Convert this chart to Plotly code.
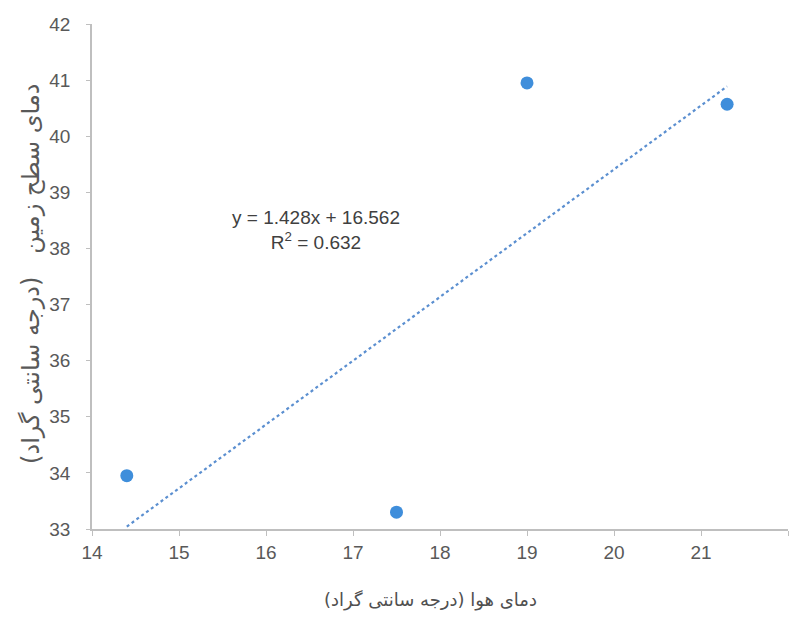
import numpy as np
import plotly.graph_objects as go

air_temp = [14.4, 17.5, 19.0, 21.3]
surface_temp = [33.95, 33.3, 40.95, 40.57]
x_ticks = [14, 15, 16, 17, 18, 19, 20, 21, 22]
y_ticks = [33, 34, 35, 36, 37, 38, 39, 40, 41, 42]
equation_text = "y = 1.428x + 16.562<br>R<sup>2</sup> = 0.632"
x_title = "دمای هوا (درجه سانتی گراد)"
y_title = "دمای سطح زمین   (درجه سانتی گراد)"

slope, intercept = np.polyfit(air_temp, surface_temp, 1)
trend_x = [min(air_temp), max(air_temp)]
trend_y = [slope * v + intercept for v in trend_x]

FONT = "Liberation Sans Narrow, Liberation Sans, Arial, sans-serif"
FA_FONT = "DejaVu Sans, Noto Sans, sans-serif"

fig = go.Figure()
fig.add_trace(go.Scatter(
    x=trend_x, y=trend_y, mode="lines",
    line=dict(color="#5B8FD0", width=2.2, dash="dot"),
    hoverinfo="skip", showlegend=False,
))
fig.add_trace(go.Scatter(
    x=air_temp, y=surface_temp, mode="markers",
    marker=dict(color="#3F8EDB", size=13, line=dict(width=0)),
    showlegend=False,
))

fig.add_annotation(
    x=16.57, y=38.32, xref="x", yref="y", text=equation_text,
    showarrow=False, align="center",
    font=dict(family=FONT, size=19, color="#404040"),
)

fig.add_annotation(
    x=0.487, y=-0.14, xref="paper", yref="paper", text=x_title,
    showarrow=False, yanchor="middle",
    font=dict(family=FA_FONT, size=18, color="#505050"),
)
fig.add_annotation(
    x=-0.087, y=0.506, xref="paper", yref="paper", text=y_title,
    showarrow=False, textangle=-90, xanchor="center", yanchor="middle",
    font=dict(family=FA_FONT, size=24, color="#595959"),
)

fig.update_xaxes(
    range=[14, 22], tickvals=x_ticks, ticktext=[str(v) for v in x_ticks],
    showgrid=False, zeroline=False, showline=True, linecolor="#BFBFBF", linewidth=1.5,
    ticks="outside", ticklen=5, tickcolor="#BFBFBF",
    tickfont=dict(family=FONT, size=19, color="#595959"),
)
fig.update_yaxes(
    range=[33, 42], tickvals=y_ticks, ticktext=[str(v) for v in y_ticks],
    showgrid=False, zeroline=False, showline=True, linecolor="#BFBFBF", linewidth=1.5,
    ticks="outside", ticklen=4, tickcolor="#BFBFBF", ticklabelstandoff=12,
    tickfont=dict(family=FONT, size=19, color="#595959"),
)

fig.update_layout(
    width=786, height=622,
    margin=dict(l=84, r=6, t=14, b=101),
    paper_bgcolor="white", plot_bgcolor="white",
)

fig.write_html("out.html")
